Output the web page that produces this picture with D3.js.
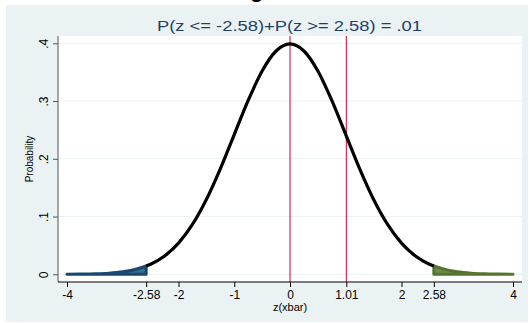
<!DOCTYPE html>
<html lang="en">
<head>
	<meta charset="UTF-8">
	<title>Normal tails</title>
	<script type="text/javascript" src="https://cdn.jsdelivr.net/npm/d3@7"></script>
	<style>
		body { margin: 0; background: #fff; }
		svg text { font-family: "Liberation Sans", Arial, sans-serif; }
	</style>
</head>
<body>
<div id="viz"></div>
<script type="text/javascript">
	// density of z
	var zCurve = [-2.58, -2.5, -2.25, -2, -1.75, -1.5, -1.25, -1, -0.75, -0.5, -0.25, 0,
		0.25, 0.5, 0.75, 1, 1.25, 1.5, 1.75, 2, 2.25, 2.5, 2.58];
	var pCurve = [0.0143, 0.0175, 0.0317, 0.054, 0.0863, 0.1295, 0.1826, 0.242, 0.3011, 0.3521, 0.3867, 0.3989,
		0.3867, 0.3521, 0.3011, 0.242, 0.1826, 0.1295, 0.0863, 0.054, 0.0317, 0.0175, 0.0143];
	var zLeft = [-4, -3.75, -3.5, -3.25, -3, -2.75, -2.58];
	var pLeft = [0.0001, 0.0004, 0.0009, 0.002, 0.0044, 0.0091, 0.0143];
	var zRight = [2.58, 2.75, 3, 3.25, 3.5, 3.75, 4];
	var pRight = [0.0143, 0.0091, 0.0044, 0.002, 0.0009, 0.0004, 0.0001];
	var refLines = [0, 1.01];
	var xTicks = [-4, -2.58, -2, -1, 0, 1.01, 2, 2.58, 4];
	var xTickLabels = ['-4', '-2.58', '-2', '-1', '0', '1.01', '2', '2.58', '4'];
	var yTicks = [0, 0.1, 0.2, 0.3, 0.4];
	var yTickLabels = ['0', '.1', '.2', '.3', '.4'];
	var title = 'P(z <= -2.58)+P(z >= 2.58) = .01';

	var W = 530, H = 323;
	var margin = {top: 36, left: 58, bottom: 41, right: 8};

	var svg = d3.select('#viz').append('svg')
		.attr('width', W)
		.attr('height', H);

	// stray glyph cut at the top of the picture
	svg.append('text')
		.attr('x', 250).attr('y', -3)
		.attr('font-size', 22).attr('font-weight', 'bold')
		.text('g');

	svg.append('rect')
		.attr('x', 6).attr('y', 5)
		.attr('width', 522).attr('height', 317)
		.attr('fill', '#eaf2f3');

	svg.append('rect')
		.attr('x', margin.left).attr('y', margin.top)
		.attr('width', W - margin.left - margin.right)
		.attr('height', H - margin.top - margin.bottom)
		.attr('fill', '#fff');

	var x = d3.scaleLinear().domain([-4, 4]).range([67, 513]);
	var y = d3.scaleLinear().domain([0, 0.4]).range([274.3, 43.3]);

	// grid
	svg.selectAll('.grid')
		.data(yTicks)
		.enter().append('line')
		.attr('class', 'grid')
		.attr('x1', margin.left).attr('x2', W - margin.right)
		.attr('y1', function (d) { return y(d); })
		.attr('y2', function (d) { return y(d); })
		.attr('stroke', '#eaf2f3')
		.attr('stroke-width', 1);

	// reference lines
	svg.selectAll('.ref')
		.data(refLines)
		.enter().append('line')
		.attr('class', 'ref')
		.attr('x1', function (d) { return x(d); })
		.attr('x2', function (d) { return x(d); })
		.attr('y1', margin.top).attr('y2', H - margin.bottom)
		.attr('stroke', '#c10534')
		.attr('stroke-width', 1);

	function pts(zs, ps) {
		return zs.map(function (d, i) { return [d, ps[i]]; });
	}

	var area = d3.area()
		.x(function (d) { return x(d[0]); })
		.y0(y(0))
		.y1(function (d) { return y(d[1]); })
		.curve(d3.curveMonotoneX);

	var line = d3.line()
		.x(function (d) { return x(d[0]); })
		.y(function (d) { return y(d[1]); })
		.curve(d3.curveMonotoneX);

	svg.append('path')
		.datum(pts(zLeft, pLeft))
		.attr('d', area)
		.attr('fill', '#3e6a8f')
		.attr('stroke', '#1a476f')
		.attr('stroke-width', 3)
		.attr('stroke-linejoin', 'round');

	svg.append('path')
		.datum(pts(zRight, pRight))
		.attr('d', area)
		.attr('fill', '#6f8c4c')
		.attr('stroke', '#55752f')
		.attr('stroke-width', 3)
		.attr('stroke-linejoin', 'round');

	svg.append('path')
		.datum(pts(zCurve, pCurve))
		.attr('d', line)
		.attr('fill', 'none')
		.attr('stroke', '#000')
		.attr('stroke-width', 3.2);

	// axes
	var yAxis = d3.axisLeft(y)
		.tickValues(yTicks)
		.tickSize(5)
		.tickFormat(function (d, i) { return yTickLabels[i]; });

	var gy = svg.append('g')
		.attr('transform', 'translate(' + margin.left + ',0)')
		.call(yAxis);
	gy.select('.domain').attr('d', 'M0,' + margin.top + 'V' + (H - margin.bottom)).attr('stroke', '#555');
	gy.selectAll('.tick line').attr('stroke', '#555');
	gy.selectAll('.tick text')
		.attr('font-size', 12)
		.attr('fill', '#000')
		.attr('x', 0).attr('dy', 0)
		.attr('transform', 'translate(-10,0) rotate(-90)')
		.style('text-anchor', 'middle');

	var xAxis = d3.axisBottom(x)
		.tickValues(xTicks)
		.tickSize(5)
		.tickFormat(function (d, i) { return xTickLabels[i]; });

	var gx = svg.append('g')
		.attr('transform', 'translate(0,' + (H - margin.bottom) + ')')
		.call(xAxis);
	gx.select('.domain').attr('d', 'M' + margin.left + ',0H' + (W - margin.right)).attr('stroke', '#000');
	gx.selectAll('.tick line').attr('stroke', '#000');
	gx.selectAll('.tick text')
		.attr('font-size', 12)
		.attr('fill', '#000')
		.attr('y', 8);

	svg.append('text')
		.attr('x', x(0)).attr('y', 311)
		.attr('font-size', 11)
		.style('text-anchor', 'middle')
		.text('z(xbar)');

	svg.append('text')
		.attr('transform', 'translate(33,159) rotate(-90)')
		.attr('font-size', 10)
		.style('text-anchor', 'middle')
		.text('Probability');

	svg.append('text')
		.attr('x', 157).attr('y', 31)
		.attr('font-size', 15)
		.attr('fill', '#1e3f66')
		.attr('textLength', 265)
		.attr('lengthAdjust', 'spacingAndGlyphs')
		.text(title);
</script>
</body>
</html>
